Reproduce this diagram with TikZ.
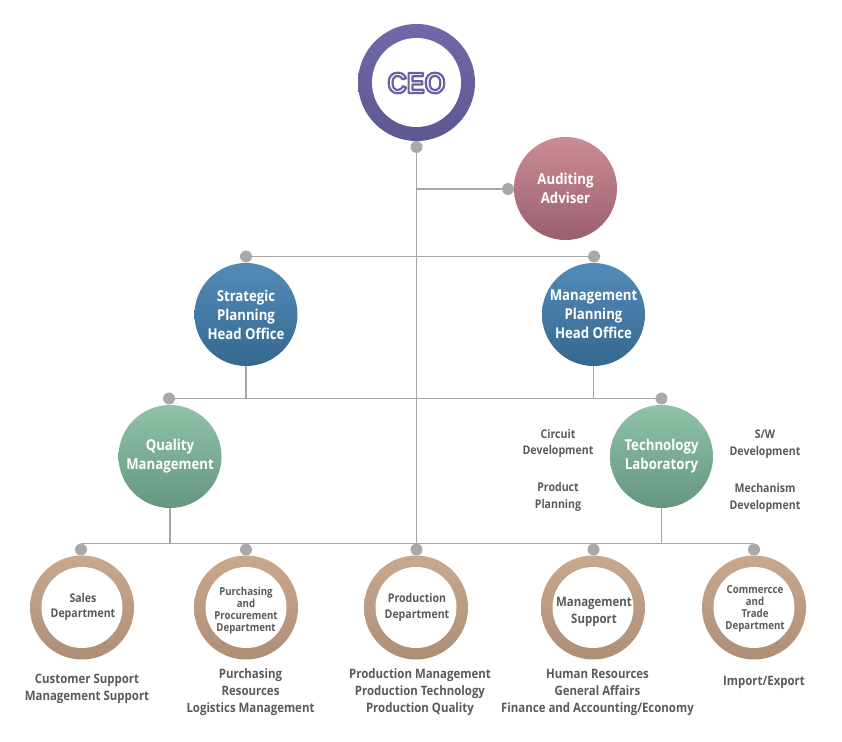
\documentclass[tikz,border=0pt]{standalone}
\usepackage{fontspec}
\setmainfont{Open Sans}[FakeStretch=0.88]
\newfontfamily\ceofont{Liberation Sans}[FakeStretch=0.92]
\pgfdeclarelayer{bg}
\pgfsetlayers{bg,main}
\definecolor{linegray}{HTML}{A6A6A6}
\definecolor{dotgray}{HTML}{A9A9A9}
\definecolor{txtgray}{HTML}{5A5A5A}
\definecolor{ceotop}{HTML}{7068A8}
\definecolor{ceobot}{HTML}{5E5891}
\definecolor{bluetop}{HTML}{538BB8}
\definecolor{bluebot}{HTML}{35688F}
\definecolor{greentop}{HTML}{90C2AA}
\definecolor{greenbot}{HTML}{65967F}
\definecolor{pinktop}{HTML}{CB8C97}
\definecolor{pinkbot}{HTML}{9A5F6E}
\definecolor{tantop}{HTML}{CAA88C}
\definecolor{tanbot}{HTML}{AE8E76}
\newcommand{\outlinedtext}[1]{\special{pdf:code q 2 Tr 2.2 w 1 j 0.41 0.38 0.63 RG 1 1 1 rg}#1\special{pdf:code Q}}
\tikzset{
  ball/.style={circle, minimum size=103pt, inner sep=0pt, align=center,
    text=white, font=\fontsize{15}{19}\selectfont\bfseries},
  bluball/.style={ball, top color=bluetop, bottom color=bluebot},
  grnball/.style={ball, top color=greentop, bottom color=greenbot},
  pnkball/.style={ball, top color=pinktop, bottom color=pinkbot},
  ringout/.style={circle, minimum size=104pt, inner sep=0pt, top color=tantop, bottom color=tanbot},
  ringhole/.style={circle, minimum size=81pt, inner sep=0pt, fill=white},
  ringtxt/.style={align=center, text=txtgray, inner sep=0pt, font=\fontsize{12}{15.5}\selectfont\bfseries},
  ringtxts/.style={ringtxt, font=\fontsize{11}{12}\selectfont\bfseries},
  dot/.style={circle, minimum size=12pt, inner sep=0pt, fill=dotgray},
  conn/.style={draw=linegray, line width=1.3pt},
  desc/.style={align=center, text=txtgray, font=\fontsize{13}{17}\selectfont\bfseries},
  side/.style={align=center, text=txtgray, font=\fontsize{12}{16.5}\selectfont\bfseries}
}
\begin{document}
\begin{tikzpicture}[x=1pt,y=-1pt]
\useasboundingbox (0,0) rectangle (842,741);
% CEO
\node[circle, minimum size=117pt, inner sep=0pt, top color=ceotop, bottom color=ceobot] (ceoring) at (416.5,82.5) {};
\node[circle, minimum size=89pt, inner sep=0pt, fill=white] (ceoin) at (ceoring.center) {};
\node (ceo) at (416.5,83) {\ceofont\fontsize{29}{30}\selectfont\bfseries\outlinedtext{CEO}};
% second level
\node[pnkball] (aud) at (565.5,188.5) {Auditing\\Adviser};
\node[bluball] (sp) at (246,314.5) {Strategic\\Planning\\Head Office};
\node[bluball] (mp) at (593.5,314.5) {Management\\Planning\\Head Office};
\node[grnball] (qm) at (170,456.5) {Quality\\Management};
\node[grnball] (tl) at (661.5,456.5) {};
\node[ball] (tlt) at (661.5,456) {Technology\\Laboratory};
% bottom rings
\node[ringout] (salesr) at (82,607.5) {};
\node[ringhole] (salesi) at (salesr.center) {};
\node[ringtxt] (sales) at (83,607) {Sales\\Department};
\node[ringout] (purr) at (246,607.5) {};
\node[ringhole] (puri) at (purr.center) {};
\node[ringtxts] (pur) at (246,610.5) {Purchasing\\and\\Procurement\\Department};
\node[ringout] (prodr) at (416,607.5) {};
\node[ringhole] (prodi) at (prodr.center) {};
\node[ringtxt] (prod) at (417,607.5) {Production\\Department};
\node[ringout] (msr) at (593,607.5) {};
\node[ringhole] (msi) at (msr.center) {};
\node[ringtxt, font=\fontsize{13}{17}\selectfont\bfseries] (ms) at (594,612) {Management\\Support};
\node[ringout] (comr) at (754,607.5) {};
\node[ringhole] (comi) at (comr.center) {};
\node[ringtxts] (com) at (755,608.5) {Commercce\\and\\Trade\\Department};
% descriptions
\node[desc] (salesd) at (87,688.5) {Customer Support\\Management Support};
\node[desc] (purd) at (250.5,692) {Purchasing\\Resources\\Logistics Management};
\node[desc] (prodd) at (420,692) {Production Management\\Production Technology\\Production Quality};
\node[desc] (msd) at (597.5,692.5) {Human Resources\\General Affairs\\Finance and Accounting/Economy};
\node[desc] (comd) at (764,682) {Import/Export};
\node[side] (cd) at (558,443.5) {Circuit\\Development};
\node[side] (pp) at (558,497) {Product\\Planning};
\node[side] (sw) at (765,444) {S/W\\Development};
\node[side] (md) at (765,498) {Mechanism\\Development};
% dots
\node[dot] (dceo) at (416.5,147) {};
\node[dot] (daud) at (508,189) {};
\node[dot] (dsp) at (246,256.5) {};
\node[dot] (dmp) at (594,256.5) {};
\node[dot] (dqm) at (169,398.5) {};
\node[dot] (dtl) at (661.5,398.5) {};
\node[dot] (dsales) at (81,549.5) {};
\node[dot] (dpur) at (246,549.5) {};
\node[dot] (dprod) at (416.5,549.5) {};
\node[dot] (dms) at (593.5,549.5) {};
\node[dot] (dcom) at (754,549.5) {};
% connectors
\begin{pgfonlayer}{bg}
\draw[conn] (dceo.center) -- (dprod.center);
\draw[conn] (dceo.center |- daud.center) -- (daud.center);
\draw[conn] (dsp.center) -- (dmp.center);
\draw[conn] (sp.south) -- (sp.south |- dqm.center);
\draw[conn] (mp.south) -- (mp.south |- dtl.center);
\draw[conn] (dqm.center) -- (dtl.center);
\draw[conn] (dsales.north) -- (dcom.north);
\draw[conn] (qm.south) -- (qm.south |- dsales.north);
\draw[conn] (tl.south) -- (tl.south |- dcom.north);
\end{pgfonlayer}
\end{tikzpicture}
\end{document}
